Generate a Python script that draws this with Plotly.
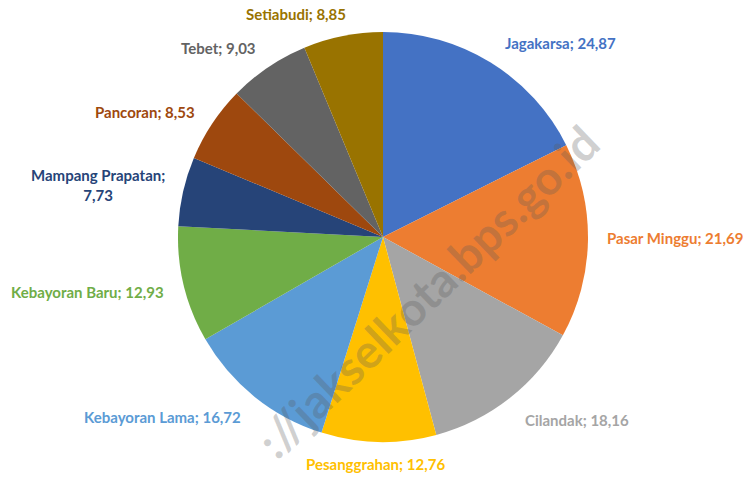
import math
import plotly.graph_objects as go

# Districts of South Jakarta and their values
districts = [
    "Jagakarsa", "Pasar Minggu", "Cilandak", "Pesanggrahan", "Kebayoran Lama",
    "Kebayoran Baru", "Mampang Prapatan", "Pancoran", "Tebet", "Setiabudi",
]
values = [24.87, 21.69, 18.16, 12.76, 16.72, 12.93, 7.73, 8.53, 9.03, 8.85]
colors = [
    "#4472C4", "#ED7D31", "#A5A5A5", "#FFC000", "#5B9BD5",
    "#70AD47", "#264478", "#9E480E", "#636363", "#997300",
]

W, H = 750, 477
cx, cy, r = 383, 237, 205  # pie centre and radius in pixels
label_gap = 28             # distance of labels beyond the rim
# small per-label placement tweaks (dx, dy) in pixels, screen orientation
nudges = [(-2, 4), (-11, -3), (-4, 0), (-3, -6), (6, -2),
          (10, 1), (11, 0), (8, 4), (5, 4), (11, 6)]
# labels that break onto two lines
wrapped = {"Mampang Prapatan"}

fig = go.Figure(
    go.Pie(
        labels=districts,
        values=values,
        sort=False,
        direction="clockwise",
        rotation=0,
        marker=dict(colors=colors, line=dict(width=0)),
        textinfo="none",
        showlegend=False,
        hoverinfo="label+value",
        domain=dict(
            x=[(cx - r) / W, (cx + r) / W],
            y=[(H - cy - r) / H, (H - cy + r) / H],
        ),
    )
)

# Data labels placed outside each slice at its mid-angle
total = sum(values)
cum = 0.0
for name, val, col, (dx, dy) in zip(districts, values, colors, nudges):
    mid = (cum + val / 2) / total * 2 * math.pi
    cum += val
    s, c = math.sin(mid), math.cos(mid)
    px = cx + (r + label_gap) * s + dx
    py = cy - (r + label_gap) * c + dy
    if abs(s) < 0.1:
        xanchor = "center"
    elif s > 0:
        xanchor = "left"
    else:
        xanchor = "right"
    num = f"{val:.2f}".replace(".", ",")
    sep = ";<br>" if name in wrapped else "; "
    fig.add_annotation(
        text=f"{name}{sep}{num}",
        x=px / W, y=(H - py) / H, xref="paper", yref="paper",
        xanchor=xanchor, yanchor="middle", align="center",
        showarrow=False,
        font=dict(family="Lato", size=15, color=col, weight="bold"),
    )

fig.add_annotation(
    text="://jakselkota.bps.go.id",
    x=0.570, y=0.390, xref="paper", yref="paper",
    textangle=-44, showarrow=False,
    font=dict(family="Lato", size=47, color="rgba(90,90,90,0.28)", weight="bold"),
)

fig.update_layout(
    width=W, height=H,
    margin=dict(l=0, r=0, t=0, b=0),
    paper_bgcolor="white",
    plot_bgcolor="white",
    separators=",.",
)

fig.write_html("out.html")
